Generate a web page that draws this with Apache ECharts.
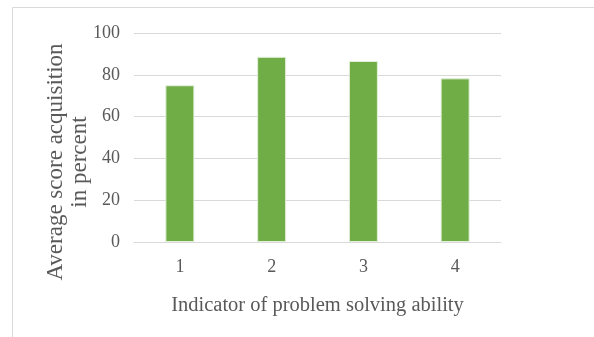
<!DOCTYPE html>
<html>
<head>
<meta charset="utf-8">
<script src="https://cdn.jsdelivr.net/npm/echarts@6/dist/echarts.min.js"></script>
<style>
  html, body { margin: 0; padding: 0; background: #fff; }
  #chart { width: 594px; height: 337px; }
</style>
</head>
<body>
<div id="chart"></div>
<script>
// Indicators of problem solving ability and their average scores (%)
const categories = ['1', '2', '3', '4'];
const scores = [75, 88.6, 86.6, 78.3];
const yTicks = { min: 0, max: 100, interval: 20 };

const textColor = '#595959';
const serif = '"Liberation Serif", "Times New Roman", serif';

const chart = echarts.init(document.getElementById('chart'), null, { renderer: 'canvas' });

chart.setOption({
  animation: false,
  backgroundColor: '#ffffff',
  grid: { left: 134, right: 93, top: 33, bottom: 95, containLabel: false },
  xAxis: {
    type: 'category',
    data: categories,
    axisLine: { show: true, lineStyle: { color: '#d9d9d9', width: 1 } },
    axisTick: { show: false },
    axisLabel: { color: textColor, fontFamily: serif, fontSize: 18, margin: 16 },
    name: 'Indicator of problem solving ability',
    nameLocation: 'middle',
    nameGap: 53,
    nameTextStyle: { color: textColor, fontFamily: serif, fontSize: 20.5 }
  },
  yAxis: {
    type: 'value',
    min: yTicks.min,
    max: yTicks.max,
    interval: yTicks.interval,
    axisLine: { show: false },
    axisTick: { show: false },
    splitLine: { lineStyle: { color: '#d9d9d9', width: 1 } },
    axisLabel: { color: textColor, fontFamily: serif, fontSize: 18, margin: 14 }
  },
  graphic: [
    {
      type: 'rect',
      silent: true,
      shape: { x: 12.5, y: 7.5, width: 600, height: 340 },
      style: { fill: 'none', stroke: '#d9d9d9', lineWidth: 1 }
    },
    {
      type: 'text',
      silent: true,
      x: 68,
      y: 162,
      rotation: Math.PI / 2,
      style: {
        text: 'Average score acquisition\nin percent',
        fill: textColor,
        font: '23px ' + serif,
        align: 'center',
        verticalAlign: 'middle',
        lineHeight: 24
      }
    }
  ],
  series: [
    {
      type: 'bar',
      data: scores,
      barWidth: 29,
      itemStyle: { color: '#70ad47', borderColor: '#e2efd9', borderWidth: 1 }
    }
  ]
});
</script>
</body>
</html>
